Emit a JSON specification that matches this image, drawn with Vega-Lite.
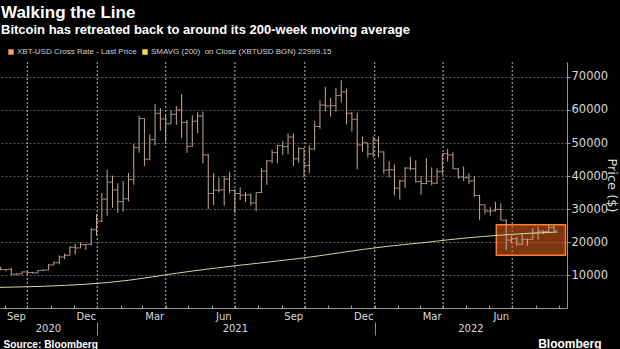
{
 "$schema": "https://vega.github.io/schema/vega-lite/v6.json",
 "width": 567,
 "height": 246,
 "autosize": {"type": "none"},
 "padding": {"left": 0, "top": 62, "right": 53, "bottom": 41},
 "background": "#000000",
 "title": {
  "text": "Walking the Line",
  "subtitle": "Bitcoin has retreated back to around its 200-week moving average",
  "anchor": "start", "frame": "group", "offset": 10, "dx": 1,
  "font": "Liberation Sans", "fontSize": 17, "fontWeight": 700, "color": "#ffffff",
  "subtitleFont": "Liberation Sans", "subtitleFontSize": 13, "subtitleFontWeight": 700, "subtitleColor": "#ffffff", "subtitlePadding": 2
 },
 "datasets": {
  "ohlc": [
   {"d":"2020-08-27","o":11900,"h":12470,"l":11380,"c":11650},
   {"d":"2020-09-03","o":11650,"h":11800,"l":11150,"c":11710},
   {"d":"2020-09-10","o":11710,"h":12090,"l":9880,"c":10250},
   {"d":"2020-09-17","o":10250,"h":10500,"l":9850,"c":10330},
   {"d":"2020-09-24","o":10330,"h":11100,"l":10200,"c":10930},
   {"d":"2020-10-01","o":10930,"h":10990,"l":10140,"c":10780},
   {"d":"2020-10-08","o":10780,"h":10960,"l":10380,"c":10670},
   {"d":"2020-10-15","o":10670,"h":11490,"l":10530,"c":11380},
   {"d":"2020-10-22","o":11380,"h":11720,"l":11200,"c":11500},
   {"d":"2020-10-29","o":11500,"h":13350,"l":11420,"c":13030},
   {"d":"2020-11-05","o":13030,"h":14090,"l":12990,"c":13740},
   {"d":"2020-11-12","o":13740,"h":15960,"l":13200,"c":15480},
   {"d":"2020-11-19","o":15480,"h":16500,"l":14800,"c":15970},
   {"d":"2020-11-26","o":15970,"h":18800,"l":15900,"c":18400},
   {"d":"2020-12-03","o":18400,"h":19400,"l":16200,"c":18200},
   {"d":"2020-12-10","o":18200,"h":19900,"l":18100,"c":19150},
   {"d":"2020-12-17","o":19150,"h":19400,"l":17600,"c":19270},
   {"d":"2020-12-24","o":19270,"h":24200,"l":19000,"c":23700},
   {"d":"2020-12-31","o":23700,"h":28400,"l":22000,"c":26300},
   {"d":"2021-01-07","o":26300,"h":34800,"l":26000,"c":33000},
   {"d":"2021-01-14","o":33000,"h":41900,"l":28000,"c":38150},
   {"d":"2021-01-21","o":38150,"h":40100,"l":30400,"c":35800},
   {"d":"2021-01-28","o":35800,"h":37800,"l":28800,"c":32250},
   {"d":"2021-02-04","o":32250,"h":38500,"l":29200,"c":33100},
   {"d":"2021-02-11","o":33100,"h":40900,"l":32300,"c":38900},
   {"d":"2021-02-18","o":38900,"h":49700,"l":37400,"c":48600},
   {"d":"2021-02-25","o":48600,"h":58300,"l":47100,"c":57400},
   {"d":"2021-03-04","o":57400,"h":57500,"l":43000,"c":45100},
   {"d":"2021-03-11","o":45100,"h":52600,"l":44900,"c":51000},
   {"d":"2021-03-18","o":51000,"h":61800,"l":49300,"c":59000},
   {"d":"2021-03-25","o":59000,"h":60600,"l":53700,"c":57300},
   {"d":"2021-04-01","o":57300,"h":58400,"l":50400,"c":55800},
   {"d":"2021-04-08","o":55800,"h":60000,"l":55800,"c":58700},
   {"d":"2021-04-15","o":58700,"h":61200,"l":55500,"c":60000},
   {"d":"2021-04-22","o":60000,"h":64800,"l":51500,"c":56200},
   {"d":"2021-04-29","o":56200,"h":57000,"l":47000,"c":49000},
   {"d":"2021-05-06","o":49000,"h":58400,"l":48800,"c":56600},
   {"d":"2021-05-13","o":56600,"h":59300,"l":53000,"c":58200},
   {"d":"2021-05-20","o":58200,"h":59500,"l":43800,"c":46400},
   {"d":"2021-05-27","o":46400,"h":46600,"l":30000,"c":34700},
   {"d":"2021-06-03","o":34700,"h":40900,"l":31200,"c":35700},
   {"d":"2021-06-10","o":35700,"h":39500,"l":35000,"c":35800},
   {"d":"2021-06-17","o":35800,"h":40000,"l":31000,"c":39100},
   {"d":"2021-06-24","o":39100,"h":41300,"l":34800,"c":35600},
   {"d":"2021-07-01","o":35600,"h":36000,"l":28800,"c":34700},
   {"d":"2021-07-08","o":34700,"h":36600,"l":32700,"c":34200},
   {"d":"2021-07-15","o":34200,"h":35100,"l":32100,"c":34300},
   {"d":"2021-07-22","o":34300,"h":34700,"l":31000,"c":31800},
   {"d":"2021-07-29","o":31800,"h":35000,"l":29300,"c":35000},
   {"d":"2021-08-05","o":35000,"h":42500,"l":34800,"c":41500},
   {"d":"2021-08-12","o":41500,"h":44800,"l":37300,"c":44600},
   {"d":"2021-08-19","o":44600,"h":48000,"l":43800,"c":47100},
   {"d":"2021-08-26","o":47100,"h":49400,"l":43900,"c":49200},
   {"d":"2021-09-02","o":49200,"h":50500,"l":46300,"c":48900},
   {"d":"2021-09-09","o":48900,"h":52900,"l":46600,"c":51800},
   {"d":"2021-09-16","o":51800,"h":52900,"l":43000,"c":45200},
   {"d":"2021-09-23","o":45200,"h":48800,"l":44000,"c":48300},
   {"d":"2021-09-30","o":48300,"h":48300,"l":39600,"c":43200},
   {"d":"2021-10-07","o":43200,"h":49300,"l":40800,"c":48200},
   {"d":"2021-10-14","o":48200,"h":56600,"l":47900,"c":55000},
   {"d":"2021-10-21","o":55000,"h":62900,"l":54300,"c":61500},
   {"d":"2021-10-28","o":61500,"h":67000,"l":59600,"c":61200},
   {"d":"2021-11-04","o":61200,"h":63700,"l":58000,"c":61300},
   {"d":"2021-11-11","o":61300,"h":66700,"l":59500,"c":64400},
   {"d":"2021-11-18","o":64400,"h":69000,"l":62300,"c":65500},
   {"d":"2021-11-25","o":65500,"h":66400,"l":55600,"c":59000},
   {"d":"2021-12-02","o":59000,"h":59400,"l":53500,"c":57200},
   {"d":"2021-12-09","o":57200,"h":59200,"l":42000,"c":49400},
   {"d":"2021-12-16","o":49400,"h":51900,"l":47300,"c":50100},
   {"d":"2021-12-23","o":50100,"h":50000,"l":45600,"c":46700},
   {"d":"2021-12-30","o":46700,"h":52000,"l":45600,"c":50800},
   {"d":"2022-01-06","o":50800,"h":52000,"l":45700,"c":47300},
   {"d":"2022-01-13","o":47300,"h":47500,"l":40700,"c":41800},
   {"d":"2022-01-20","o":41800,"h":44400,"l":39600,"c":41900},
   {"d":"2022-01-27","o":41900,"h":43500,"l":34100,"c":36300},
   {"d":"2022-02-03","o":36300,"h":38900,"l":32900,"c":38500},
   {"d":"2022-02-10","o":38500,"h":42700,"l":36300,"c":42400},
   {"d":"2022-02-17","o":42400,"h":45800,"l":41700,"c":42200},
   {"d":"2022-02-24","o":42200,"h":44700,"l":38000,"c":38300},
   {"d":"2022-03-03","o":38300,"h":40000,"l":34300,"c":37700},
   {"d":"2022-03-10","o":37700,"h":45400,"l":37500,"c":38400},
   {"d":"2022-03-17","o":38400,"h":42600,"l":37200,"c":37800},
   {"d":"2022-03-24","o":37800,"h":42300,"l":37600,"c":41300},
   {"d":"2022-03-31","o":41300,"h":46800,"l":40500,"c":46800},
   {"d":"2022-04-07","o":46800,"h":48200,"l":44400,"c":46400},
   {"d":"2022-04-14","o":46400,"h":47200,"l":42100,"c":42200},
   {"d":"2022-04-21","o":42200,"h":42400,"l":39200,"c":39700},
   {"d":"2022-04-28","o":39700,"h":42900,"l":38500,"c":39500},
   {"d":"2022-05-05","o":39500,"h":40800,"l":37600,"c":38500},
   {"d":"2022-05-12","o":38500,"h":40000,"l":33700,"c":34100},
   {"d":"2022-05-19","o":34100,"h":34300,"l":26700,"c":31300},
   {"d":"2022-05-26","o":31300,"h":31300,"l":28600,"c":29400},
   {"d":"2022-06-02","o":29400,"h":30600,"l":28000,"c":29400},
   {"d":"2022-06-09","o":29400,"h":32200,"l":29300,"c":29900},
   {"d":"2022-06-16","o":29900,"h":31700,"l":26600,"c":26600},
   {"d":"2022-06-23","o":26600,"h":26900,"l":17600,"c":20600},
   {"d":"2022-06-30","o":20600,"h":21800,"l":19700,"c":21000},
   {"d":"2022-07-07","o":21000,"h":21500,"l":18800,"c":19300},
   {"d":"2022-07-14","o":19300,"h":22500,"l":19000,"c":20800},
   {"d":"2022-07-21","o":20800,"h":21000,"l":18900,"c":20800},
   {"d":"2022-07-28","o":20800,"h":24200,"l":20800,"c":22600},
   {"d":"2022-08-04","o":22600,"h":24600,"l":20700,"c":23300},
   {"d":"2022-08-11","o":23300,"h":23500,"l":22400,"c":23200},
   {"d":"2022-08-18","o":23200,"h":25200,"l":22700,"c":24400},
   {"d":"2022-08-25","o":24400,"h":25000,"l":23200,"c":23300}
  ],
  "sma": [
   {"d":"2020-08-26","v":6250},
   {"d":"2020-09-24","v":6400},
   {"d":"2020-10-22","v":6580},
   {"d":"2020-11-19","v":6850},
   {"d":"2020-12-17","v":7200},
   {"d":"2021-01-14","v":7700},
   {"d":"2021-02-11","v":8400},
   {"d":"2021-03-11","v":9300},
   {"d":"2021-04-08","v":10300},
   {"d":"2021-05-06","v":11200},
   {"d":"2021-06-03","v":12000},
   {"d":"2021-07-01","v":12800},
   {"d":"2021-07-29","v":13500},
   {"d":"2021-08-26","v":14250},
   {"d":"2021-09-23","v":15000},
   {"d":"2021-10-21","v":15850},
   {"d":"2021-11-18","v":16800},
   {"d":"2021-12-16","v":17750},
   {"d":"2022-01-13","v":18550},
   {"d":"2022-02-10","v":19250},
   {"d":"2022-03-10","v":19900},
   {"d":"2022-04-07","v":20650},
   {"d":"2022-05-05","v":21300},
   {"d":"2022-06-02","v":21850},
   {"d":"2022-06-30","v":22300},
   {"d":"2022-07-28","v":22700},
   {"d":"2022-08-29","v":23000}
  ],
  "box": [
   {"start":"2022-06-10","end":"2022-09-09","low":16000,"high":25200}
  ],
  "quarters": [
   {"q":"2020-10-01"}, {"q":"2021-01-01"}, {"q":"2021-04-01"}, {"q":"2021-07-01"},
   {"q":"2021-10-01"}, {"q":"2022-01-01"}, {"q":"2022-04-01"}, {"q":"2022-07-01"}
  ]
 },
 "resolve": {"axis": {"x": "independent"}},
 "layer": [
  {
   "data": {"name": "quarters"},
   "mark": {"type": "rule", "color": "#9a9a9a", "strokeDash": [2, 2], "strokeWidth": 1.2},
   "encoding": {
    "x": {"field": "q", "type": "temporal",
     "scale": {"domain": [{"year": 2020, "month": 8, "date": 26}, {"year": 2022, "month": 9, "date": 11}], "nice": false},
     "axis": null}
   }
  },
  {
   "data": {"name": "box"},
   "mark": {"type": "rect", "fill": "#e8621e", "fillOpacity": 0.55, "stroke": "#ff7d36", "strokeWidth": 1.5},
   "encoding": {
    "x": {"field": "start", "type": "temporal",
     "scale": {"domain": [{"year": 2020, "month": 8, "date": 26}, {"year": 2022, "month": 9, "date": 11}], "nice": false},
     "axis": {"orient": "bottom", "offset": 0,
      "values": [
       {"year": 2020, "month": 10, "date": 1}, {"year": 2021, "month": 1, "date": 1}, {"year": 2021, "month": 4, "date": 1}, {"year": 2021, "month": 7, "date": 1},
       {"year": 2021, "month": 10, "date": 1}, {"year": 2022, "month": 1, "date": 1}, {"year": 2022, "month": 4, "date": 1}, {"year": 2022, "month": 7, "date": 1}
      ],
      "grid": false,
      "labelExpr": "timeFormat(timeOffset('month', datum.value, -1), '%b')",
      "labelOffset": -11.5, "labelPadding": 3,
      "labelFont": "DejaVu Sans", "labelFontSize": 10, "labelColor": "#d9d9d9",
      "labelFlush": false, "labelOverlap": false, "labelBound": false,
      "ticks": false,
      "domain": true, "domainColor": "#9a9a9a", "title": null}},
    "x2": {"field": "end"},
    "y": {"field": "low", "type": "quantitative", "scale": {"domain": [0, 74545.45], "nice": false}},
    "y2": {"field": "high"}
   }
  },
  {
   "data": {"name": "ohlc"},
   "mark": {"type": "rule", "strokeWidth": 1},
   "encoding": {
    "x": {"field": "d", "type": "temporal",
     "scale": {"domain": [{"year": 2020, "month": 8, "date": 26}, {"year": 2022, "month": 9, "date": 11}], "nice": false},
     "axis": {"orient": "bottom", "offset": 14,
      "values": [{"year": 2021, "month": 1, "date": 1}, {"year": 2022, "month": 1, "date": 1}],
      "ticks": true, "tickSize": 13, "tickColor": "#8c8c8c", "tickWidth": 1,
      "labels": false, "domain": false, "grid": false,
      "title": "Bloomberg", "titleAnchor": "end", "titleAlign": "right", "titleX": 601, "titleY": 25, "titleBaseline": "alphabetic",
      "titleFont": "Liberation Sans", "titleFontWeight": "bold", "titleFontSize": 12, "titleColor": "#ffffff"}},
    "y": {"field": "h", "type": "quantitative",
     "scale": {"domain": [0, 74545.45], "nice": false},
     "axis": {"orient": "right",
      "values": [10000, 20000, 30000, 40000, 50000, 60000, 70000],
      "format": "d",
      "grid": true, "gridColor": "#5e5e5e", "gridDash": [2, 2], "gridWidth": 1,
      "ticks": true, "tickSize": 3, "tickColor": "#9a9a9a",
      "domain": true, "domainColor": "#9a9a9a",
      "labelFont": "DejaVu Sans", "labelFontSize": 11.5, "labelColor": "#d9d9d9", "labelPadding": 1,
      "labelFlush": false, "labelOverlap": false,
      "title": "Price ($)", "titleAngle": 90, "titleFont": "DejaVu Sans", "titleFontSize": 13, "titleFontWeight": "normal", "titleColor": "#d9d9d9",
      "titleX": 44, "titleY": 123, "titleAlign": "center", "titleBaseline": "middle"}},
    "y2": {"field": "l"},
    "color": {"datum": "XBT-USD Cross Rate - Last Price", "type": "nominal",
     "scale": {"domain": ["XBT-USD Cross Rate - Last Price", "SMAVG (200)\u00a0 on Close (XBTUSD BGN) 22999.15"], "range": ["#c9aa98", "#d6d49a"]},
     "legend": {"orient": "none", "legendX": 7, "legendY": -14, "direction": "horizontal", "title": null,
      "symbolType": "square", "symbolSize": 30, "symbolStrokeWidth": 0,
      "labelFont": "Liberation Sans", "labelFontSize": 8, "labelColor": "#d0d0d0", "labelOffset": 2, "labelLimit": 400, "columnPadding": 4, "padding": 0,
      "encode": {"symbols": {"update": {"fill": {"signal": "datum.value === 'XBT-USD Cross Rate - Last Price' ? '#f4a35c' : '#e5e04c'"}, "opacity": {"value": 1}, "strokeWidth": {"value": 0}}}}}}
   }
  },
  {
   "data": {"name": "ohlc"},
   "mark": {"type": "tick", "orient": "horizontal", "size": 3, "thickness": 1, "xOffset": -1.5, "color": "#c9aa98"},
   "encoding": {
    "x": {"field": "d", "type": "temporal", "scale": {"domain": [{"year": 2020, "month": 8, "date": 26}, {"year": 2022, "month": 9, "date": 11}], "nice": false},
     "axis": {"orient": "bottom", "offset": 0,
      "values": [
       {"year": 2020, "month": 9, "date": 1}, {"year": 2020, "month": 10, "date": 1}, {"year": 2020, "month": 11, "date": 1}, {"year": 2020, "month": 12, "date": 1},
       {"year": 2021, "month": 1, "date": 1}, {"year": 2021, "month": 2, "date": 1}, {"year": 2021, "month": 3, "date": 1}, {"year": 2021, "month": 4, "date": 1},
       {"year": 2021, "month": 5, "date": 1}, {"year": 2021, "month": 6, "date": 1}, {"year": 2021, "month": 7, "date": 1}, {"year": 2021, "month": 8, "date": 1},
       {"year": 2021, "month": 9, "date": 1}, {"year": 2021, "month": 10, "date": 1}, {"year": 2021, "month": 11, "date": 1}, {"year": 2021, "month": 12, "date": 1},
       {"year": 2022, "month": 1, "date": 1}, {"year": 2022, "month": 2, "date": 1}, {"year": 2022, "month": 3, "date": 1}, {"year": 2022, "month": 4, "date": 1},
       {"year": 2022, "month": 5, "date": 1}, {"year": 2022, "month": 6, "date": 1}, {"year": 2022, "month": 7, "date": 1}, {"year": 2022, "month": 8, "date": 1},
       {"year": 2022, "month": 9, "date": 1}
      ],
      "labels": false, "grid": false, "domain": false, "title": null,
      "ticks": true, "tickSize": -3, "tickColor": "#9a9a9a"}},
    "y": {"field": "o", "type": "quantitative", "scale": {"domain": [0, 74545.45], "nice": false}}
   }
  },
  {
   "data": {"name": "ohlc"},
   "mark": {"type": "tick", "orient": "horizontal", "size": 3, "thickness": 1, "xOffset": 1.5, "color": "#c9aa98"},
   "encoding": {
    "x": {"field": "d", "type": "temporal", "scale": {"domain": [{"year": 2020, "month": 8, "date": 26}, {"year": 2022, "month": 9, "date": 11}], "nice": false}, "axis": null},
    "y": {"field": "c", "type": "quantitative", "scale": {"domain": [0, 74545.45], "nice": false}}
   }
  },
  {
   "data": {"name": "sma"},
   "mark": {"type": "line", "strokeWidth": 1, "interpolate": "monotone"},
   "encoding": {
    "x": {"field": "d", "type": "temporal",
     "scale": {"domain": [{"year": 2020, "month": 8, "date": 26}, {"year": 2022, "month": 9, "date": 11}], "nice": false},
     "axis": {"orient": "bottom", "offset": 14,
      "values": [{"year": 2020, "month": 10, "date": 28}, {"year": 2021, "month": 7, "date": 1}, {"year": 2022, "month": 5, "date": 7}],
      "labelExpr": "timeFormat(datum.value, '%Y')",
      "ticks": false, "domain": false, "grid": false,
      "labelFont": "DejaVu Sans", "labelFontSize": 10, "labelColor": "#d9d9d9", "labelPadding": 1,
      "labelFlush": false, "labelOverlap": false,
      "title": "Source: Bloomberg", "titleAnchor": "start", "titleAlign": "left", "titleX": 3, "titleY": 25, "titleBaseline": "alphabetic",
      "titleFont": "Liberation Sans", "titleFontWeight": "bold", "titleFontSize": 10.2, "titleColor": "#ffffff"}},
    "y": {"field": "v", "type": "quantitative", "scale": {"domain": [0, 74545.45], "nice": false}},
    "color": {"datum": "SMAVG (200)\u00a0 on Close (XBTUSD BGN) 22999.15", "type": "nominal"}
   }
  }
 ],
 "config": {
  "view": {"stroke": null},
  "font": "Liberation Sans"
 }
}
